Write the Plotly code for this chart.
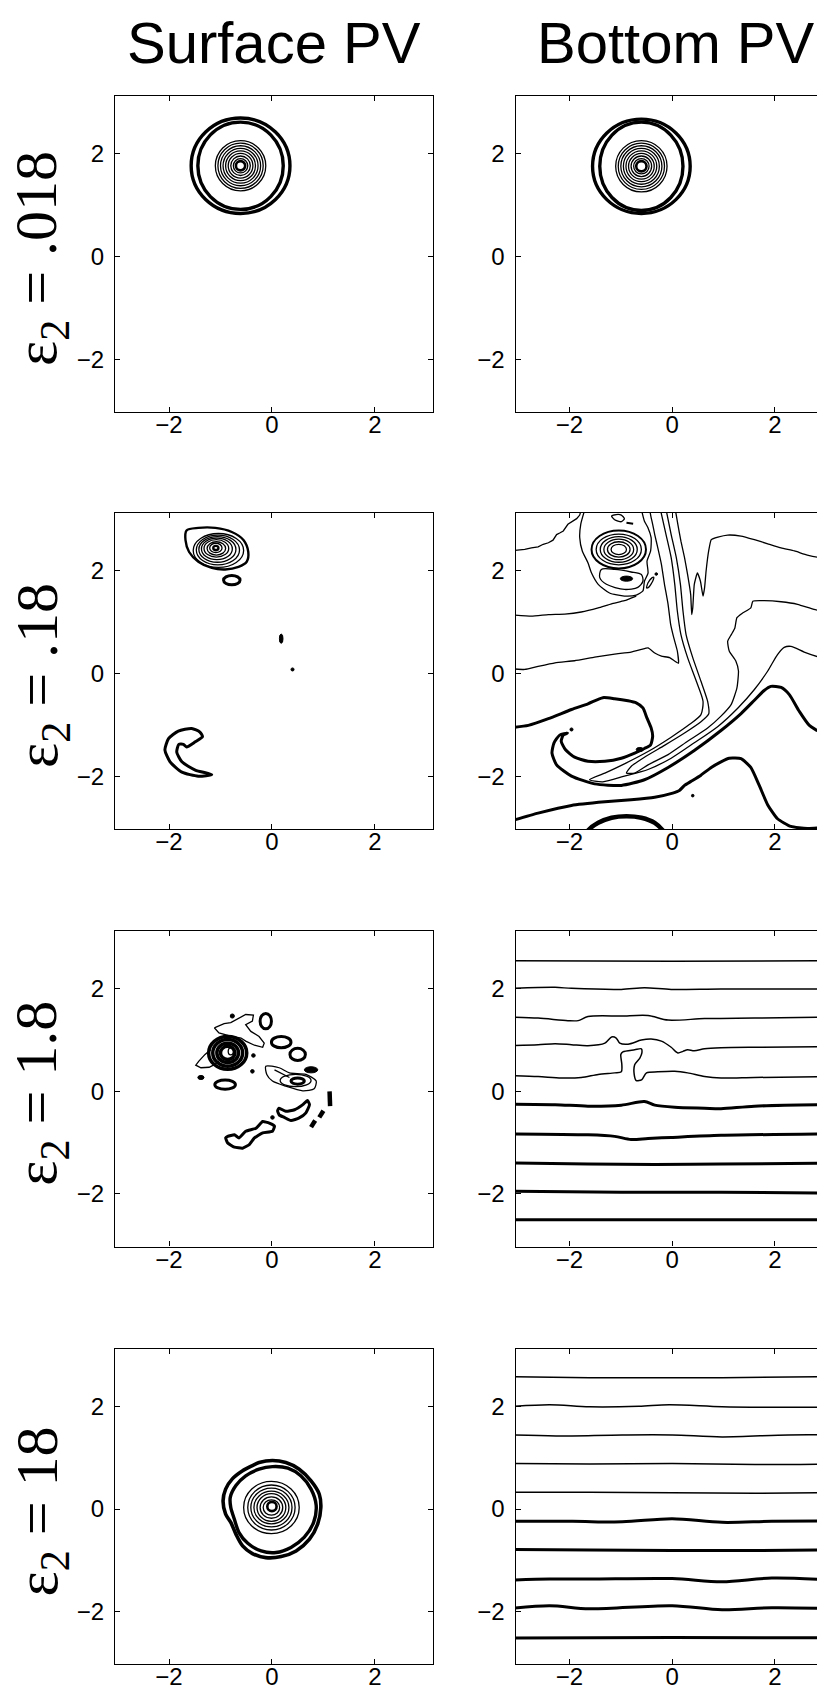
import plotly.graph_objects as go

# ======================= DATA =======================
COL_TITLES = ["Surface PV", "Bottom PV"]
ROW_LABELS = [".018", ".18", "1.8", "18"]
TICK_VALUES = [-2, 0, 2]
TICK_TEXT = ["\u22122", "0", "2"]
X_RANGE = [-3.05, 3.13]
Y_RANGE = [-3.03, 3.13]

# ---- row 1 (eps2 = .018) : surface PV vortex rings ----
R1S_CENTER = (-0.61, 1.77)
R1S_CORE_R = 0.09
R1S_THIN_R = [0.14, 0.19, 0.24, 0.29, 0.34, 0.39, 0.44, 0.49]
R1S_THICK_RX = [0.96, 0.83]
R1S_THICK_RY = [0.93, 0.85]
# ---- row 1 : bottom PV vortex rings ----
R1B_CENTER = (-0.60, 1.76)
R1B_CORE_R = 0.10
R1B_THIN_R = [0.15, 0.20, 0.25, 0.30, 0.35, 0.40, 0.45, 0.50]
R1B_THICK_RX = [0.95, 0.81]
R1B_THICK_RY = [0.92, 0.86]

# ---- row 2 (eps2 = .18) : surface PV ----
R2S_VORTEX_X = [-1.66, -1.43, -1.10, -0.78, -0.55, -0.46, -0.49, -0.65, -0.91, -1.17, -1.43, -1.61, -1.68, -1.66]
R2S_VORTEX_Y = [2.79, 2.84, 2.84, 2.76, 2.60, 2.37, 2.18, 2.08, 2.03, 2.06, 2.18, 2.37, 2.60, 2.79]
R2S_RING_CX = [-1.09, -1.09, -1.08, -1.08, -1.07, -1.06, -1.05, -1.04]
R2S_RING_CY = [2.45, 2.45, 2.44, 2.44, 2.43, 2.42, 2.41, 2.40]
R2S_RING_RX = [0.05, 0.12, 0.18, 0.24, 0.30, 0.36, 0.42, 0.49]
R2S_RING_RY = [0.04, 0.09, 0.13, 0.17, 0.21, 0.25, 0.29, 0.33]
R2S_SMALL = (-0.78, 1.82, 0.16, 0.09)
R2S_BLOBS_X = [0.18, 0.40]
R2S_BLOBS_Y = [0.68, 0.08]
R2S_BLOBS_RX = [0.035, 0.03]
R2S_BLOBS_RY = [0.09, 0.03]
R2S_CRES_X = [-1.35, -1.40, -1.56, -1.82, -2.01, -2.08, -1.98, -1.75, -1.43, -1.17, -1.49, -1.75, -1.85, -1.81, -1.72, -1.66, -1.49, -1.35]
R2S_CRES_Y = [-1.23, -1.14, -1.07, -1.12, -1.27, -1.49, -1.72, -1.92, -2.00, -1.97, -1.88, -1.72, -1.53, -1.38, -1.38, -1.43, -1.33, -1.23]

# ---- row 2 : bottom PV ----
R2B_A_X = [-3.2, -2.87, -2.74, -2.61, -2.51, -2.41, -2.32, -2.25, -2.19, -2.12, -2.03, -1.93, -1.86, -1.80, -1.77]
R2B_A_Y = [2.39, 2.42, 2.45, 2.47, 2.52, 2.55, 2.60, 2.71, 2.74, 2.78, 2.91, 2.97, 3.02, 3.09, 3.2]
R2B_B_X = [-1.70, -1.78, -1.80, -1.75, -1.64, -1.57, -1.44, -1.22, -0.93, -0.70, -0.57, -0.54, -0.47, -0.49, -0.42, -0.41, -0.47, -0.54, -0.60]
R2B_B_Y = [3.2, 2.91, 2.65, 2.39, 2.16, 1.96, 1.74, 1.57, 1.51, 1.53, 1.61, 1.80, 1.96, 2.19, 2.39, 2.65, 2.84, 2.97, 3.2]
R2B_C_X = [-3.2, -2.87, -2.61, -2.28, -1.90, -1.51, -1.12, -0.80, -0.60, -0.47, -0.34, -0.21, -0.05, 0.12, 0.10, 0.03, -0.03, -0.08, -0.15, -0.21, -0.28, -0.34, -0.38, -0.41, -0.44]
R2B_C_Y = [0.10, 0.08, 0.14, 0.21, 0.25, 0.32, 0.38, 0.42, 0.47, 0.50, 0.40, 0.34, 0.31, 0.20, 0.44, 0.70, 0.96, 1.35, 1.74, 2.13, 2.45, 2.71, 2.91, 3.04, 3.2]
R2B_D_X = [-3.2, -2.74, -2.41, -2.09, -1.77, -1.44, -1.18, -0.93, -0.70]
R2B_D_Y = [1.15, 1.12, 1.15, 1.16, 1.20, 1.28, 1.36, 1.42, 1.51]
R2B_P1_X = [-0.23, -0.12, -0.02, 0.05, 0.10, 0.17, 0.30, 0.47, 0.60, 0.56, 0.34, -0.02, -0.47, -0.93, -1.31, -1.61,
            -1.35, -0.93, -0.47, -0.02, 0.43, 0.89, 1.28, 1.60, 1.86, 2.05, 2.18, 2.31, 2.57, 2.83, 3.2]
R2B_P1_Y = [3.2, 2.71, 2.26, 1.74, 1.22, 0.76, 0.31, -0.15, -0.54, -0.80, -0.99, -1.24, -1.52, -1.76, -1.94, -2.07,
            -2.11, -2.00, -1.87, -1.65, -1.35, -1.03, -0.67, -0.31, 0.05, 0.37, 0.51, 0.53, 0.42, 0.33, 0.24]
R2B_P2_X = [-0.12, -0.02, 0.08, 0.16, 0.21, 0.27, 0.40, 0.56, 0.69, 0.71, 0.56, 0.24, -0.15, -0.54, -0.80, -0.89,
            -0.73, -0.47, -0.08, 0.30, 0.69, 0.95, 1.15, 1.26, 1.29, 1.24, 1.11, 1.08, 1.15, 1.22, 1.26, 1.37, 1.53,
            1.57, 1.79, 2.12, 2.44, 2.76, 3.2]
R2B_P2_Y = [3.2, 2.71, 2.26, 1.74, 1.22, 0.76, 0.31, -0.15, -0.54, -0.79, -0.94, -1.16, -1.40, -1.63, -1.81, -1.94,
            -1.94, -1.78, -1.58, -1.32, -1.06, -0.83, -0.60, -0.28, 0.05, 0.24, 0.44, 0.63, 0.76, 0.89, 1.09, 1.18,
            1.28, 1.41, 1.42, 1.40, 1.35, 1.25, 1.15]
R2B_H_X = [3.2, 2.89, 2.63, 2.38, 2.12, 1.86, 1.60, 1.34, 1.08, 0.89, 0.76, 0.71, 0.66, 0.63, 0.60, 0.55, 0.49, 0.43,
           0.40, 0.38, 0.36, 0.30, 0.24, 0.17, 0.11, 0.06]
R2B_H_Y = [2.27, 2.26, 2.31, 2.39, 2.45, 2.53, 2.61, 2.68, 2.70, 2.66, 2.61, 2.39, 2.00, 1.67, 1.51, 1.80, 1.96, 1.74,
           1.28, 1.15, 1.54, 1.93, 2.26, 2.58, 2.91, 3.2]
R2B_LOBE_X = [-1.38, -1.41, -1.28, -0.93, -0.67, -0.57, -0.60, -0.80, -1.12, -1.38]
R2B_LOBE_Y = [2.03, 1.87, 1.74, 1.64, 1.68, 1.80, 1.93, 1.98, 2.03, 2.03]
R2B_SMALL_X = [-0.50, -0.47, -0.39, -0.36, -0.38, -0.46, -0.50]
R2B_SMALL_Y = [1.67, 1.77, 1.87, 1.88, 1.80, 1.68, 1.67]
R2B_TOP_X = [-1.18, -1.12, -0.99, -0.93, -0.99, -1.09, -1.18]
R2B_TOP_Y = [3.07, 3.00, 2.96, 3.02, 3.09, 3.10, 3.07]
R2B_DASH_X = [-0.89, -0.76]
R2B_DASH_Y = [2.94, 2.92]
R2B_RING_C = (-1.04, 2.42)
R2B_RING_RX = [0.15, 0.22, 0.29, 0.36, 0.44, 0.53]
R2B_RING_RY = [0.10, 0.15, 0.20, 0.25, 0.30, 0.37]
R2B_DOTS_X = [-0.89, -0.31, -1.96, -0.63, 0.40]
R2B_DOTS_Y = [1.85, 1.94, -1.09, -1.48, -2.38]
R2B_DOTS_RX = [0.12, 0.025, 0.03, 0.07, 0.025]
R2B_DOTS_RY = [0.05, 0.025, 0.03, 0.04, 0.025]
R2B_T1_X = [-3.2, -2.80, -2.41, -1.96, -1.64, -1.35, -1.12, -0.86, -0.70, -0.57, -0.49, -0.41, -0.38, -0.42, -0.54,
            -0.73, -0.99, -1.31, -1.64, -1.90, -2.08, -2.16, -2.12, -2.04, -2.19, -2.30, -2.34, -2.25, -1.96, -1.51,
            -0.99, -0.54, -0.08, 0.43, 0.95, 1.34, 1.60, 1.79, 1.92, 2.12, 2.28, 2.47, 2.67, 2.89, 3.2]
R2B_T1_Y = [-1.06, -1.01, -0.88, -0.70, -0.59, -0.47, -0.49, -0.53, -0.57, -0.67, -0.87, -1.06, -1.22, -1.39, -1.46,
            -1.55, -1.65, -1.71, -1.71, -1.63, -1.48, -1.32, -1.20, -1.16, -1.20, -1.35, -1.55, -1.78, -2.00, -2.15,
            -2.18, -2.07, -1.83, -1.50, -1.11, -0.78, -0.52, -0.33, -0.25, -0.27, -0.41, -0.73, -1.01, -1.14, -1.17]
R2B_T2_X = [-3.2, -2.61, -1.96, -1.31, -0.80, -0.34, 0.01, 0.14, 0.24, 0.37, 0.56, 0.76, 0.95, 1.11, 1.34, 1.53,
            1.69, 1.86, 2.05, 2.31, 2.63, 3.2]
R2B_T2_Y = [-2.89, -2.72, -2.57, -2.50, -2.46, -2.41, -2.33, -2.28, -2.18, -2.10, -1.98, -1.83, -1.72, -1.65, -1.66,
            -1.83, -2.17, -2.56, -2.83, -2.98, -3.02, -2.98]
R2B_T3_X = [-1.72, -1.64, -1.44, -1.18, -0.89, -0.60, -0.34, -0.18, -0.10]
R2B_T3_Y = [-3.2, -3.06, -2.91, -2.81, -2.78, -2.81, -2.91, -3.06, -3.2]

# ---- row 3 (eps2 = 1.8) : surface PV ----
R3S_LOOP_X = [-1.12, -0.93, -0.80, -0.64, -0.51, -0.36, -0.38, -0.51, -0.41, -0.25, -0.15, -0.18, -0.34, -0.51, -0.60, -0.77, -0.90, -1.03, -1.12]
R3S_LOOP_Y = [1.24, 1.32, 1.34, 1.43, 1.50, 1.49, 1.37, 1.30, 1.17, 1.07, 0.94, 0.86, 0.90, 0.98, 1.04, 1.07, 1.11, 1.14, 1.24]
R3S_PIECE_X = [-1.19, -1.30, -1.42, -1.48, -1.38, -1.22, -1.12, -1.03]
R3S_PIECE_Y = [0.81, 0.72, 0.59, 0.51, 0.46, 0.47, 0.52, 0.59]
R3S_CORE_C = (-0.86, 0.75)
R3S_CORE_RX = [0.37, 0.29, 0.21, 0.14]
R3S_CORE_RY = [0.32, 0.26, 0.19, 0.13]
R3S_EYE = (-0.80, 0.78, 0.05, 0.07)
R3S_RINGS_X = [-0.12, 0.18, 0.50, -0.91, 0.50]
R3S_RINGS_Y = [1.37, 0.96, 0.72, 0.13, 0.20]
R3S_RINGS_RX = [0.11, 0.19, 0.15, 0.20, 0.13]
R3S_RINGS_RY = [0.15, 0.11, 0.12, 0.09, 0.06]
R3S_DOTS_X = [-0.77, 0.76, -0.36, -0.38, -1.38, 0.01]
R3S_DOTS_Y = [1.47, 0.42, 0.70, 0.39, 0.27, -0.51]
R3S_DOTS_RX = [0.04, 0.13, 0.035, 0.035, 0.06, 0.035]
R3S_DOTS_RY = [0.04, 0.06, 0.035, 0.035, 0.04, 0.035]
R3S_EYE2_X = [-0.12, 0.14, 0.34, 0.66, 0.86, 0.82, 0.60, 0.27, 0.01, -0.10, -0.12]
R3S_EYE2_Y = [0.49, 0.46, 0.36, 0.33, 0.20, 0.05, 0.01, 0.10, 0.20, 0.33, 0.49]
R3S_EYE2_INNER = (0.46, 0.21, 0.30, 0.12)
R3S_STREAK_X = [0.05, 0.34]
R3S_STREAK_Y = [0.42, 0.27]
R3S_SEG1_X = [1.12, 1.13]
R3S_SEG1_Y = [0.00, -0.29]
R3S_SEG2_X = [1.00, 0.92]
R3S_SEG2_Y = [-0.38, -0.51]
R3S_SEG3_X = [0.84, 0.76]
R3S_SEG3_Y = [-0.57, -0.70]
R3S_W_X = [0.14, 0.27, 0.44, 0.60, 0.69, 0.73, 0.66, 0.53, 0.37, 0.24, 0.14, 0.11, 0.14]
R3S_W_Y = [-0.33, -0.39, -0.36, -0.26, -0.18, -0.26, -0.42, -0.52, -0.57, -0.51, -0.46, -0.38, -0.33]
R3S_LOW_X = [-0.86, -0.73, -0.64, -0.51, -0.31, -0.18, -0.05, 0.05, 0.01, -0.18, -0.34, -0.44, -0.57, -0.73, -0.86, -0.90, -0.86]
R3S_LOW_Y = [-0.88, -0.85, -0.91, -0.78, -0.72, -0.59, -0.62, -0.68, -0.78, -0.81, -0.91, -1.04, -1.11, -1.09, -1.01, -0.91, -0.88]

# ---- row 3 : bottom PV (near-zonal contours) ----
R3B_THIN_X = [
    [-3.2, 0.0, 3.2],
    [-3.2, -2.28, -1.96, -0.99, -0.54, -0.02, 0.95, 3.2],
    [-3.2, -2.61, -2.03, -1.83, -1.64, -0.99, -0.47, -0.08, 0.63, 1.60, 3.2],
    [-3.2, -2.61, -2.28, -1.96, -1.64, -1.31, -1.18, -1.09, -1.02, -0.86, -0.60, -0.41, -0.21, -0.02, 0.11, 0.21, 0.30, 0.43, 0.63, 0.95, 1.60, 3.2],
    [-3.2, -2.61, -2.16, -1.77, -1.44, -1.12, -0.99, -0.98, -1.00, -0.96, -0.73, -0.60, -0.59, -0.63, -0.73, -0.74, -0.70, -0.59, -0.50, -0.28, 0.05, 0.30, 0.63, 0.95, 1.60, 3.2],
]
R3B_THIN_Y = [
    [2.55, 2.54, 2.55],
    [2.01, 2.03, 2.01, 1.99, 2.02, 1.99, 2.00, 2.00],
    [1.45, 1.43, 1.38, 1.38, 1.46, 1.47, 1.48, 1.39, 1.42, 1.43, 1.45],
    [0.89, 0.91, 0.93, 0.91, 0.89, 0.94, 1.06, 1.04, 0.94, 0.92, 1.00, 1.02, 0.98, 0.86, 0.75, 0.78, 0.81, 0.79, 0.83, 0.85, 0.86, 0.87],
    [0.31, 0.29, 0.26, 0.27, 0.33, 0.36, 0.38, 0.52, 0.72, 0.77, 0.81, 0.83, 0.75, 0.65, 0.52, 0.33, 0.21, 0.23, 0.36, 0.38, 0.39, 0.36, 0.29, 0.26, 0.27, 0.29],
]
R3B_THICK_X = [
    [-3.2, -2.28, -1.64, -0.99, -0.54, -0.34, 0.05, 0.63, 0.95, 1.60, 3.2],
    [-3.2, -1.64, -1.12, -0.80, -0.47, -0.02, 0.95, 3.2],
    [-3.2, -1.64, -0.34, 0.95, 3.2],
    [-3.2, -0.99, 0.95, 3.2],
    [-3.2, 0.0, 3.2],
]
R3B_THICK_Y = [
    [-0.25, -0.26, -0.29, -0.27, -0.20, -0.27, -0.31, -0.33, -0.34, -0.29, -0.26],
    [-0.83, -0.85, -0.88, -0.94, -0.92, -0.90, -0.86, -0.83],
    [-1.40, -1.42, -1.43, -1.42, -1.40],
    [-1.95, -1.97, -1.97, -1.99],
    [-2.51, -2.51, -2.51],
]

# ---- row 4 (eps2 = 18) : surface PV ----
R4S_CORE = (0.0, 0.05, 0.09)
R4S_THIN_C = (-0.01, 0.03)
R4S_THIN_RX = [0.16, 0.22, 0.28, 0.34, 0.40, 0.46, 0.54]
R4S_THIN_RY = [0.15, 0.21, 0.27, 0.32, 0.38, 0.44, 0.51]
R4S_OUT_X = [-0.25, 0.01, 0.27, 0.53, 0.76, 0.92, 0.95, 0.89, 0.73, 0.47, 0.18, -0.12, -0.38, -0.57, -0.70, -0.80, -0.90, -0.95, -0.90, -0.77, -0.57, -0.38, -0.25]
R4S_OUT_Y = [0.91, 0.95, 0.91, 0.78, 0.55, 0.29, 0.03, -0.29, -0.59, -0.82, -0.93, -0.95, -0.87, -0.72, -0.49, -0.26, -0.10, 0.16, 0.39, 0.59, 0.75, 0.85, 0.91]
R4S_IN_X = [0.01, 0.31, 0.56, 0.76, 0.86, 0.81, 0.63, 0.37, 0.08, -0.21, -0.47, -0.64, -0.73, -0.80, -0.81, -0.70, -0.51, -0.25, 0.01]
R4S_IN_Y = [0.83, 0.80, 0.65, 0.39, 0.07, -0.26, -0.55, -0.75, -0.85, -0.82, -0.67, -0.46, -0.20, 0.03, 0.23, 0.46, 0.65, 0.78, 0.83]

# ---- row 4 : bottom PV ----
R4B_THIN_X = [
    [-3.2, -1.61, 0.97, 3.2],
    [-3.2, -2.39, -1.61, -0.65, -0.06, 0.97, 1.94, 3.2],
    [-3.2, -2.26, -0.97, 0.0, 0.97, 2.26, 3.2],
    [-3.2, -1.61, 0.0, 1.61, 3.2],
    [-3.2, -1.61, 0.0, 1.61, 3.2],
]
R4B_THIN_Y = [
    [2.59, 2.57, 2.57, 2.59],
    [2.00, 2.04, 2.00, 2.01, 2.04, 2.00, 1.99, 1.99],
    [1.45, 1.43, 1.45, 1.45, 1.41, 1.45, 1.45],
    [0.89, 0.88, 0.89, 0.87, 0.88],
    [0.33, 0.33, 0.32, 0.31, 0.32],
]
R4B_THICK_X = [
    [-3.2, -1.94, -0.97, 0.0, 0.97, 1.94, 3.2],
    [-3.2, -1.61, 0.0, 1.61, 3.2],
    [-3.2, -2.39, -1.61, 0.0, 0.97, 1.94, 3.2],
    [-3.2, -2.39, -1.61, 0.0, 0.97, 1.94, 3.2],
    [-3.2, 0.0, 3.2],
]
R4B_THICK_Y = [
    [-0.24, -0.24, -0.25, -0.19, -0.26, -0.24, -0.23],
    [-0.79, -0.80, -0.81, -0.81, -0.80],
    [-1.39, -1.37, -1.37, -1.36, -1.42, -1.35, -1.39],
    [-1.95, -1.89, -1.95, -1.89, -1.97, -1.93, -1.95],
    [-2.52, -2.51, -2.52],
]

# ======================= STYLE / LAYOUT =======================
W, H = 825, 1698
THIN = 1.3
MED = 2.0
THICK = 3.0
COL_X = [[107 / W, 425 / W], [507.5 / W, 1.0]]
ROW_PX = [(88, 404), (505, 821), (923, 1238.5), (1341, 1656)]
SANS = "Liberation Sans, Arial, Helvetica, sans-serif"
SERIF = "Liberation Serif, Times New Roman, serif"

fig = go.Figure()
shapes = []


def refs(row, col):
    n = row * 2 + col + 1
    return ("x" if n == 1 else f"x{n}"), ("y" if n == 1 else f"y{n}")


def curve(row, col, xs, ys, width, smooth=0.7):
    xa, ya = refs(row, col)
    line = dict(color="black", width=width)
    if smooth:
        line.update(shape="spline", smoothing=smooth)
    fig.add_trace(go.Scatter(x=xs, y=ys, mode="lines", line=line, xaxis=xa, yaxis=ya,
                             hoverinfo="skip", showlegend=False))


def ellipse(row, col, cx, cy, rx, ry, width, fill=False):
    xa, ya = refs(row, col)
    shapes.append(dict(type="circle", xref=xa, yref=ya, x0=cx - rx, x1=cx + rx, y0=cy - ry, y1=cy + ry,
                       line=dict(color="black", width=width),
                       fillcolor="black" if fill else "rgba(0,0,0,0)", layer="above"))


# ---- row 1 ----
for col, (c, core, thin_r, trx, try_) in enumerate([
        (R1S_CENTER, R1S_CORE_R, R1S_THIN_R, R1S_THICK_RX, R1S_THICK_RY),
        (R1B_CENTER, R1B_CORE_R, R1B_THIN_R, R1B_THICK_RX, R1B_THICK_RY)]):
    ellipse(0, col, c[0], c[1], core, core, 2.6)
    for r in thin_r:
        ellipse(0, col, c[0], c[1], r, r, THIN)
    for rx, ry in zip(trx, try_):
        ellipse(0, col, c[0], c[1], rx, ry, THICK + 0.4)

# ---- row 2 surface ----
curve(1, 0, R2S_VORTEX_X, R2S_VORTEX_Y, 2.4, 0.9)
for i, (cx, cy, rx, ry) in enumerate(zip(R2S_RING_CX, R2S_RING_CY, R2S_RING_RX, R2S_RING_RY)):
    ellipse(1, 0, cx, cy, rx, ry, 2.4 if i == 0 else THIN)
ellipse(1, 0, *R2S_SMALL, THICK)
for bx, by, brx, bry in zip(R2S_BLOBS_X, R2S_BLOBS_Y, R2S_BLOBS_RX, R2S_BLOBS_RY):
    ellipse(1, 0, bx, by, brx, bry, 1, fill=True)
curve(1, 0, R2S_CRES_X, R2S_CRES_Y, THICK, 0.6)

# ---- row 2 bottom ----
curve(1, 1, R2B_A_X, R2B_A_Y, THIN, None)
curve(1, 1, R2B_B_X, R2B_B_Y, THIN, 0.6)
curve(1, 1, R2B_C_X, R2B_C_Y, THIN, 0.4)
curve(1, 1, R2B_D_X, R2B_D_Y, THIN, 0.4)
curve(1, 1, R2B_P1_X, R2B_P1_Y, THIN, 0.7)
curve(1, 1, R2B_P2_X, R2B_P2_Y, THIN, 0.5)
curve(1, 1, R2B_H_X, R2B_H_Y, THIN, 0.4)
curve(1, 1, R2B_LOBE_X, R2B_LOBE_Y, THIN, 0.8)
curve(1, 1, R2B_SMALL_X, R2B_SMALL_Y, THIN, 0.6)
curve(1, 1, R2B_TOP_X, R2B_TOP_Y, THIN, 0.6)
curve(1, 1, R2B_DASH_X, R2B_DASH_Y, MED, None)
for i, (rx, ry) in enumerate(zip(R2B_RING_RX, R2B_RING_RY)):
    ellipse(1, 1, R2B_RING_C[0], R2B_RING_C[1], rx, ry, THIN if i < len(R2B_RING_RX) - 1 else MED)
for bx, by, brx, bry in zip(R2B_DOTS_X, R2B_DOTS_Y, R2B_DOTS_RX, R2B_DOTS_RY):
    ellipse(1, 1, bx, by, brx, bry, 1, fill=True)
curve(1, 1, R2B_T1_X, R2B_T1_Y, THICK, 0.6)
curve(1, 1, R2B_T2_X, R2B_T2_Y, THICK, 0.5)
curve(1, 1, R2B_T3_X, R2B_T3_Y, THICK + 1.5, 0.9)

# ---- row 3 surface ----
curve(2, 0, R3S_LOOP_X, R3S_LOOP_Y, THIN, None)
curve(2, 0, R3S_PIECE_X, R3S_PIECE_Y, THIN, None)
for rx, ry in zip(R3S_CORE_RX, R3S_CORE_RY):
    ellipse(2, 0, R3S_CORE_C[0], R3S_CORE_C[1], rx, ry, THICK + 0.5)
ellipse(2, 0, *R3S_EYE, THIN)
for bx, by, brx, bry in zip(R3S_RINGS_X, R3S_RINGS_Y, R3S_RINGS_RX, R3S_RINGS_RY):
    ellipse(2, 0, bx, by, brx, bry, THICK)
for bx, by, brx, bry in zip(R3S_DOTS_X, R3S_DOTS_Y, R3S_DOTS_RX, R3S_DOTS_RY):
    ellipse(2, 0, bx, by, brx, bry, 1, fill=True)
curve(2, 0, R3S_EYE2_X, R3S_EYE2_Y, THIN, 0.7)
ellipse(2, 0, *R3S_EYE2_INNER, THIN)
curve(2, 0, R3S_STREAK_X, R3S_STREAK_Y, THIN, None)
for sx, sy in [(R3S_SEG1_X, R3S_SEG1_Y), (R3S_SEG2_X, R3S_SEG2_Y), (R3S_SEG3_X, R3S_SEG3_Y)]:
    curve(2, 0, sx, sy, THICK + 1.5, None)
curve(2, 0, R3S_W_X, R3S_W_Y, THICK, 0.5)
curve(2, 0, R3S_LOW_X, R3S_LOW_Y, THICK, 0.4)

# ---- row 3 bottom ----
for xs, ys in zip(R3B_THIN_X, R3B_THIN_Y):
    curve(2, 1, xs, ys, THIN + 0.2, 0.8)
for xs, ys in zip(R3B_THICK_X, R3B_THICK_Y):
    curve(2, 1, xs, ys, THICK, 0.8)

# ---- row 4 surface ----
ellipse(3, 0, R4S_CORE[0], R4S_CORE[1], R4S_CORE[2], R4S_CORE[2], 2.6)
for rx, ry in zip(R4S_THIN_RX, R4S_THIN_RY):
    ellipse(3, 0, R4S_THIN_C[0], R4S_THIN_C[1], rx, ry, THIN)
curve(3, 0, R4S_OUT_X, R4S_OUT_Y, THICK + 0.6, 0.8)
curve(3, 0, R4S_IN_X, R4S_IN_Y, THICK + 0.4, 0.8)

# ---- row 4 bottom ----
for xs, ys in zip(R4B_THIN_X, R4B_THIN_Y):
    curve(3, 1, xs, ys, THIN + 0.2, 0.9)
for xs, ys in zip(R4B_THICK_X, R4B_THICK_Y):
    curve(3, 1, xs, ys, THICK, 0.9)

# ---- axes ----
layout_axes = {}
for row in range(4):
    top, bot = ROW_PX[row]
    ydom = [1 - bot / H, 1 - top / H]
    for col in range(2):
        n = row * 2 + col + 1
        xa, ya = refs(row, col)
        common = dict(tickvals=TICK_VALUES, ticktext=TICK_TEXT, ticks="inside", ticklen=5, tickwidth=1,
                      tickcolor="black", showline=True, linecolor="black", linewidth=1.4, mirror="ticks",
                      showgrid=False, zeroline=False, fixedrange=True,
                      tickfont=dict(family=SANS, size=24, color="black"))
        layout_axes["xaxis" if n == 1 else f"xaxis{n}"] = dict(domain=COL_X[col], range=X_RANGE, anchor=ya,
                                                                ticklabelstandoff=-9, **common)
        layout_axes["yaxis" if n == 1 else f"yaxis{n}"] = dict(domain=ydom, range=Y_RANGE, anchor=xa,
                                                                ticklabelstandoff=5, **common)

annotations = []
for col, title in enumerate(COL_TITLES):
    cx = [266, 668][col] / W
    annotations.append(dict(text=title, x=cx, y=1 - 34 / H, xref="paper", yref="paper", xanchor="center",
                            yanchor="middle", showarrow=False, font=dict(family=SANS, size=58, color="black")))
for row, lab in enumerate(ROW_LABELS):
    top, bot = ROW_PX[row]
    cy = (top + bot) / 2 + 5
    annotations.append(dict(text=f"\u03b5<sub>2</sub> = {lab}", x=33 / W, y=1 - cy / H, xref="paper",
                            yref="paper", xanchor="center", yanchor="middle", textangle=-90, showarrow=False,
                            font=dict(family=SERIF, size=60, color="black")))

fig.update_layout(width=W, height=H, margin=dict(l=0, r=0, t=0, b=0), paper_bgcolor="white",
                  plot_bgcolor="white", showlegend=False, shapes=shapes, annotations=annotations,
                  **layout_axes)

fig.write_html("out.html")
